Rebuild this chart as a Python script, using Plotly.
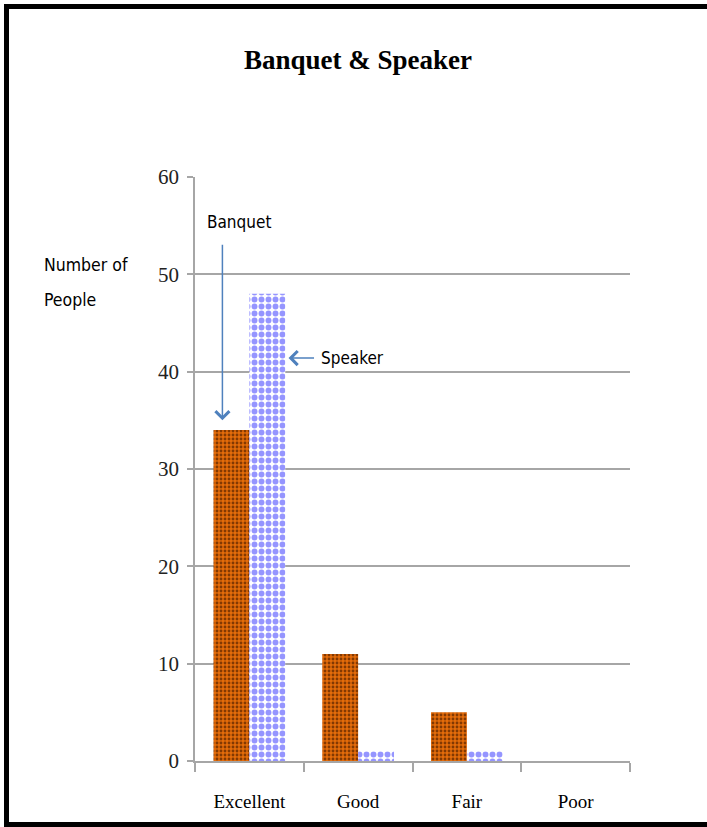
import plotly.graph_objects as go

categories = ["Excellent", "Good", "Fair", "Poor"]
banquet = [34, 11, 5, 0]
speaker = [48, 1, 1, 0]
y_ticks = [0, 10, 20, 30, 40, 50, 60]

W, H = 707, 827
L, R, T, B = 195, 77, 177, 66

fig = go.Figure()
fig.add_trace(go.Bar(
    x=categories, y=banquet, name="Banquet",
    marker=dict(color="#E46C0A", line=dict(width=0),
                pattern=dict(shape=".", fgcolor="#6A2C00", bgcolor="#E46C0A",
                             size=4, solidity=0.4, fgopacity=0.8)),
))
fig.add_trace(go.Bar(
    x=categories, y=speaker, name="Speaker",
    marker=dict(color="white", line=dict(width=0),
                pattern=dict(shape=".", fgcolor="#9595FF", bgcolor="white",
                             size=7, solidity=0.55, fgopacity=1)),
))

grid = "#A6A6A6"
sans = "Liberation Sans Narrow, Arial Narrow, DejaVu Sans Condensed, Liberation Sans"
fig.update_layout(
    width=W, height=H,
    margin=dict(l=L, r=R, t=T, b=B),
    paper_bgcolor="white", plot_bgcolor="white",
    showlegend=False,
    barmode="group", bargap=0.34, bargroupgap=0,
    title=dict(text="<b>Banquet & Speaker</b>", x=358 / W, xanchor="center",
               y=1 - 60 / H, yanchor="middle",
               font=dict(family="Liberation Serif", size=27, color="black")),
    xaxis=dict(
        showgrid=False, showline=True, linecolor=grid, linewidth=1.5,
        ticks="outside", tickson="boundaries", ticklen=9, tickcolor=grid, tickwidth=1.5,
        tickfont=dict(family="Liberation Serif", size=19, color="black"),
        ticklabelstandoff=22,
    ),
    yaxis=dict(
        range=[0, 60], tickvals=y_ticks, showgrid=True, gridcolor=grid, gridwidth=1.5,
        showline=True, linecolor=grid, linewidth=1.5,
        ticks="outside", ticklen=6, tickcolor=grid, tickwidth=1.5,
        tickfont=dict(family="Liberation Serif", size=21, color="#222"),
        zeroline=False, ticklabelstandoff=4,
    ),
)

arrow_col = "#4F81BD"
# Banquet label and arrow
fig.add_annotation(x=-0.1, y=55.4, text="Banquet", showarrow=False,
                   font=dict(family=sans, size=17, color="black"))
fig.add_annotation(x=-0.248, y=35.0, ax=0, ay=-177, text="", showarrow=True,
                   arrowhead=4, arrowsize=1.8, arrowwidth=1.5, arrowcolor=arrow_col)
# Speaker label and arrow
fig.add_annotation(x=0.95, y=41.4, text="Speaker", showarrow=False,
                   font=dict(family=sans, size=17, color="black"))
fig.add_annotation(x=0.36, y=41.4, ax=27, ay=0, text="", showarrow=True,
                   arrowhead=4, arrowsize=1.8, arrowwidth=1.5, arrowcolor=arrow_col)
# Y axis title (two lines)
pw, ph = W - L - R, H - T - B
for txt, yp in [("Number of", 265), ("People", 300)]:
    fig.add_annotation(xref="paper", yref="paper", x=(42 - L) / pw, y=(761 - yp) / ph,
                       xanchor="left", yanchor="middle", align="left",
                       text=txt, showarrow=False,
                       font=dict(family=sans, size=17.5, color="black"))

# Black frame (top, left, bottom)
def px(xp):
    return (xp - L) / pw
def py(yp):
    return (H - B - yp) / ph
for x0, y0, x1, y1 in [(4, 6.5, W, 6.5), (6.5, 4, 6.5, H), (4, 824.5, W, 824.5)]:
    fig.add_shape(type="line", xref="paper", yref="paper",
                  x0=px(x0), y0=py(y0), x1=px(x1), y1=py(y1),
                  line=dict(color="black", width=5), layer="above")

fig.write_html("out.html")
